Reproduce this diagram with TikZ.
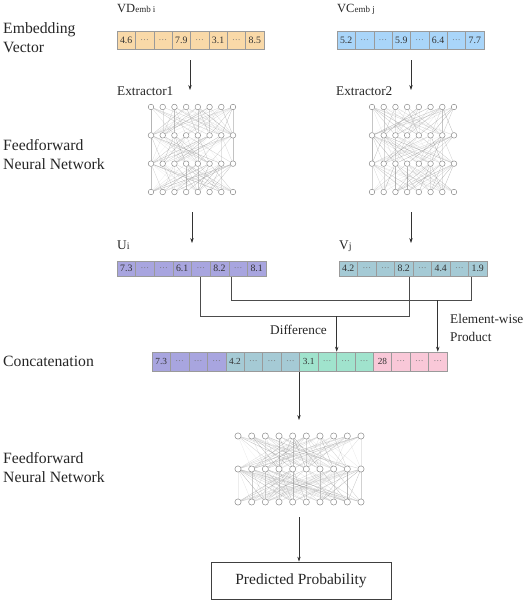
\documentclass[tikz,border=0pt]{standalone}
\usepackage{fontspec}
\setmainfont{Liberation Serif}
\usetikzlibrary{arrows.meta,calc}
\definecolor{corange}{HTML}{F9D9A8}
\definecolor{cblue}{HTML}{A9D5F9}
\definecolor{cpurple}{HTML}{A8A5DF}
\definecolor{cteal}{HTML}{A5CAD5}
\definecolor{cgreen}{HTML}{A0E3CD}
\definecolor{cpink}{HTML}{F9C8D8}
\definecolor{cellborder}{HTML}{9A9A9A}
\definecolor{numgray}{HTML}{333333}
\definecolor{dotgray}{HTML}{707070}
\newcommand\celldots{\textcolor{dotgray}{\fontsize{8.5}{9}\selectfont …}}
\begin{document}
\begin{tikzpicture}[x=1pt,y=-1pt,
 cell/.style={draw=cellborder, line width=0.5pt, inner sep=0pt, text=numgray, font=\fontsize{9.8}{10}\selectfont},
 neuron/.style={circle, draw=black!45, fill=white, line width=0.5pt, minimum size=5.6pt, inner sep=0pt},
 syn/.style={draw=black!45, line width=0.3pt},
 arr/.style={-{Stealth[length=5pt,width=3.4pt]}, draw=black!80, line width=0.6pt},
 link/.style={draw=black!70, line width=0.7pt},
 side/.style={font=\fontsize{15.7}{19}\selectfont, anchor=base west, inner sep=0pt, text=black!85},
 lab/.style={font=\fontsize{13.3}{16}\selectfont, anchor=base west, inner sep=0pt, text=black!85},
 top/.style={font=\fontsize{12.5}{14}\selectfont, anchor=base west, inner sep=0pt, text=black!85}]
\useasboundingbox (0,0) rectangle (526,603);

% left labels
\node[side] (emb1) at (3,33) {Embedding};
\node[side] (emb2) at (3,52) {Vector};
\node[side] (ff1) at (3,150) {Feedforward};
\node[side] (ff2) at (3,169) {Neural Network};
\node[side] (cc) at (3,366) {Concatenation};
\node[side] (ff3) at (3,463) {Feedforward};
\node[side] (ff4) at (3,482) {Neural Network};

% top labels
\node[top] (vd) at (117,12) {VD{\fontsize{9}{10}\selectfont emb i}};
\node[top] (vc) at (337,12) {VC{\fontsize{9}{10}\selectfont emb j}};
\node[lab] (ex1) at (117,95) {Extractor1};
\node[lab] (ex2) at (336,95) {Extractor2};
\node[lab] (ui) at (117,249) {U{\fontsize{10}{12}\selectfont i}};
\node[lab] (vj) at (339,249) {V{\fontsize{10}{12}\selectfont j}};
\node[lab] (diff) at (270,334) {Difference};
\node[lab] (ew1) at (450,323) {Element-wise};
\node[lab] (ew2) at (450,341) {Product};

% top vectors
\foreach \t [count=\i] in {4.6,\celldots,\celldots,7.9,\celldots,3.1,\celldots,8.5}
  \node[cell, fill=corange, minimum width=18.375pt, minimum height=18pt] (a\i) at ({117+18.375*(\i-0.5)},40) {\t};
\foreach \t [count=\i] in {5.2,\celldots,\celldots,5.9,\celldots,6.4,\celldots,7.7}
  \node[cell, fill=cblue, minimum width=18.375pt, minimum height=18pt] (b\i) at ({337+18.375*(\i-0.5)},40) {\t};

% middle vectors
\foreach \t [count=\i] in {7.3,\celldots,\celldots,6.1,\celldots,8.2,\celldots,8.1}
  \node[cell, fill=cpurple, minimum width=18.625pt, minimum height=15.5pt] (u\i) at ({117+18.625*(\i-0.5)},268.5) {\t};
\foreach \t [count=\i] in {4.2,\celldots,\celldots,8.2,\celldots,4.4,\celldots,1.9}
  \node[cell, fill=cteal, minimum width=18.5pt, minimum height=15.5pt] (v\i) at ({339+18.5*(\i-0.5)},268.5) {\t};

% concatenation vector
\foreach \t/\c [count=\i] in {7.3/cpurple,\celldots/cpurple,\celldots/cpurple,\celldots/cpurple,
  4.2/cteal,\celldots/cteal,\celldots/cteal,\celldots/cteal,
  3.1/cgreen,\celldots/cgreen,\celldots/cgreen,\celldots/cgreen,
  28/cpink,\celldots/cpink,\celldots/cpink,\celldots/cpink}
  \node[cell, fill=\c, minimum width=18.4375pt, minimum height=19pt, font=\fontsize{9.3}{10}\selectfont] (c\i) at ({152+18.4375*(\i-0.5)},361.5) {\t};

% networks
\pgfmathsetseed{11}
\foreach \l/\y in {1/107,2/135.33,3/163.67,4/192}
  \foreach \k in {1,...,8} {
    \node[neuron] (p\l-\k) at ({151+(\k-1)*82/7},\y) {};
    \node[neuron] (q\l-\k) at ({372+(\k-1)*82/7},\y) {};
  }
\foreach \l in {1,2,3}
  \foreach \k in {1,...,8}
    \foreach \j in {1,...,8} {
      \pgfmathtruncatemacro\m{\l+1}
      \pgfmathsetmacro\rr{rnd}
      \ifdim\rr pt>0.3pt
        \pgfmathsetmacro\op{0.12+0.55*rnd}
        \draw[syn, draw opacity=\op] (p\l-\k) -- (p\m-\j);
      \fi
      \pgfmathsetmacro\rs{rnd}
      \ifdim\rs pt>0.3pt
        \pgfmathsetmacro\oq{0.12+0.55*rnd}
        \draw[syn, draw opacity=\oq] (q\l-\k) -- (q\m-\j);
      \fi
    }
\foreach \l/\y in {1/436,2/469,3/502}
  \foreach \k in {1,...,10}
    \node[neuron, minimum size=6.2pt] (r\l-\k) at ({238+(\k-1)*123/9},\y) {};
\foreach \l in {1,2}
  \foreach \k in {1,...,10}
    \foreach \j in {1,...,10} {
      \pgfmathtruncatemacro\m{\l+1}
      \pgfmathsetmacro\rr{rnd}
      \ifdim\rr pt>0.3pt
        \pgfmathsetmacro\op{0.12+0.55*rnd}
        \draw[syn, draw opacity=\op] (r\l-\k) -- (r\m-\j);
      \fi
    }

% output box
\node[draw=black!75, line width=0.8pt, minimum width=180pt, minimum height=37pt, inner sep=0pt,
      font=\fontsize{15.5}{18}\selectfont, text=black!85] (pp) at (301,580.5) {Predicted Probability};

% free-end coordinates
\coordinate (s1) at (190,60);
\coordinate (t1) at (190,90);
\coordinate (s2) at (411,60);
\coordinate (t2) at (411,90);
\coordinate (s3) at (192,212);
\coordinate (t3) at (192,243);
\coordinate (s4) at (411,212);
\coordinate (t4) at (411,243);
\coordinate (s5) at (299,372);
\coordinate (t5) at (299,420);
\coordinate (s6) at (299,517);
\coordinate (yA) at (0,316);
\coordinate (yB) at (0,300);

% arrows
\draw[arr] (s1) -- (t1);
\draw[arr] (s2) -- (t2);
\draw[arr] (s3) -- (t3);
\draw[arr] (s4) -- (t4);
\draw[arr] (s5) -- (t5);
\draw[arr] (s6) -- (pp.north -| s6);

% combination connectors
\draw[link] (u5.south) -- (u5.south |- yA) -| ([xshift=5.25pt]v4.south);
\draw[link] ([xshift=-7pt]u7.south) -- ([xshift=-7pt]u7.south |- yB) -| ([xshift=-6.75pt]v8.south);
\draw[arr] ([xshift=0.6pt]c11.north west |- yA) -- ([xshift=0.6pt]c11.north west);
\draw[arr] (c16.north |- yB) -- (c16.north);
\end{tikzpicture}
\end{document}
